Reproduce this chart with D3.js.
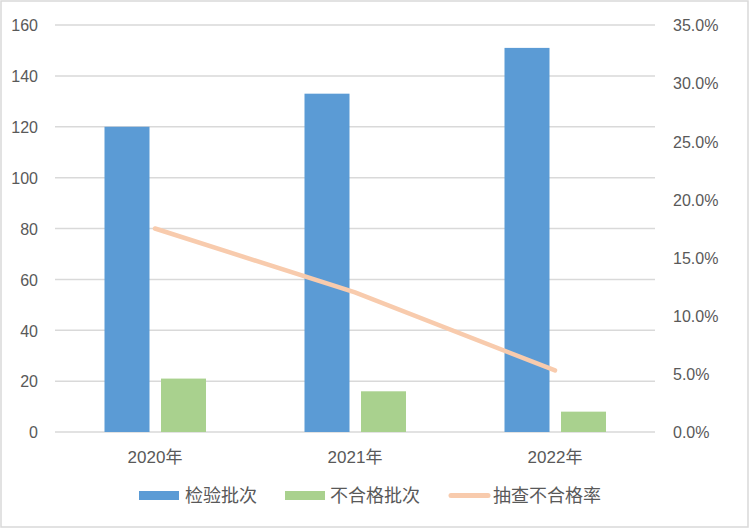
<!DOCTYPE html>
<html><head><meta charset="utf-8">
<script src="https://cdn.jsdelivr.net/npm/d3@7/dist/d3.min.js"></script>
<style>
body{margin:0;background:#fff;}
text{font-family:"Liberation Sans","Noto Sans CJK SC",sans-serif;fill:#595959;}
</style></head>
<body>
<svg id="c" width="749" height="528"></svg>
<script>
const categories = ["2020年","2021年","2022年"];
const inspected = [120,133,151];
const failed = [21,16,8];
const failRate = [0.175,0.120,0.053];
const seriesNames = ["检验批次","不合格批次","抽查不合格率"];
const leftTicks = [0,20,40,60,80,100,120,140,160];
const rightTicks = [0,0.05,0.10,0.15,0.20,0.25,0.30,0.35];
const colors = ["#5B9BD5","#A9D18E","#F8CBAD"];

const svg = d3.select("#c");
svg.append("rect").attr("x",1).attr("y",1).attr("width",747).attr("height",526)
  .attr("fill","#fff").attr("stroke","#d9d9d9").attr("stroke-width",1.5);

const L=55,R=655,T=25,B=432;
const x = d3.scaleBand().domain(categories).range([L,R]);
const y = d3.scaleLinear().domain([0,160]).range([B,T]);
const y2 = d3.scaleLinear().domain([0,0.35]).range([B,T]);

// grid
svg.append("g").selectAll("line").data(leftTicks).join("line")
  .attr("x1",L).attr("x2",R).attr("y1",d=>y(d)).attr("y2",d=>y(d))
  .attr("stroke","#d9d9d9").attr("stroke-width",1.5);

// left axis
const ga = svg.append("g").attr("transform",`translate(${L-17},0)`)
  .call(d3.axisLeft(y).tickValues(leftTicks).tickSize(0).tickPadding(0));
ga.select(".domain").remove();
ga.selectAll("text").style("font-size","16px").attr("fill","#595959").attr("dy","0.36em");

// right axis
const gr = svg.append("g").attr("transform",`translate(${R+18},0)`)
  .call(d3.axisRight(y2).tickValues(rightTicks).tickSize(0).tickPadding(0).tickFormat(d3.format(".1%")));
gr.select(".domain").remove();
gr.selectAll("text").style("font-size","16px").attr("fill","#595959").attr("dy","0.36em");

// x axis labels
const gx = svg.append("g").attr("transform",`translate(0,${B+10})`)
  .call(d3.axisBottom(x).tickSize(0).tickPadding(0));
gx.select(".domain").remove();
gx.selectAll("text").style("font-size","17px").attr("fill","#595959").attr("y",0).attr("dy","21px");

const bw = 45, gap = 12;
svg.append("g").selectAll("rect").data(inspected).join("rect")
  .attr("x",(d,i)=>x(categories[i])+x.bandwidth()/2-bw-gap/2+0.5)
  .attr("width",bw).attr("y",d=>y(d)).attr("height",d=>B-y(d)).attr("fill",colors[0]);
svg.append("g").selectAll("rect").data(failed).join("rect")
  .attr("x",(d,i)=>x(categories[i])+x.bandwidth()/2+gap/2)
  .attr("width",bw).attr("y",d=>y(d)).attr("height",d=>B-y(d)).attr("fill",colors[1]);

const line = d3.line().x((d,i)=>x(categories[i])+x.bandwidth()/2).y(d=>y2(d));
svg.append("path").datum(failRate).attr("d",line).attr("fill","none")
  .attr("stroke",colors[2]).attr("stroke-width",4.5).attr("stroke-linecap","round");

// legend
const lg = svg.append("g");
const items = [{sx:139,tx:185,type:"rect"},{sx:285,tx:330,type:"rect"},{sx:449,tx:493,type:"line"}];
items.forEach((it,i)=>{
  if(it.type==="rect"){
    lg.append("rect").attr("x",it.sx).attr("y",491).attr("width",40).attr("height",9).attr("fill",colors[i]);
  } else {
    lg.append("line").attr("x1",it.sx+2).attr("x2",it.sx+39).attr("y1",495.5).attr("y2",495.5)
      .attr("stroke",colors[i]).attr("stroke-width",5).attr("stroke-linecap","round");
  }
  lg.append("text").attr("x",it.tx).attr("y",502).text(seriesNames[i])
    .style("font-size","18px").style("font-family","'Noto Sans CJK SC',sans-serif").attr("fill","#595959");
});
</script>
</body></html>
